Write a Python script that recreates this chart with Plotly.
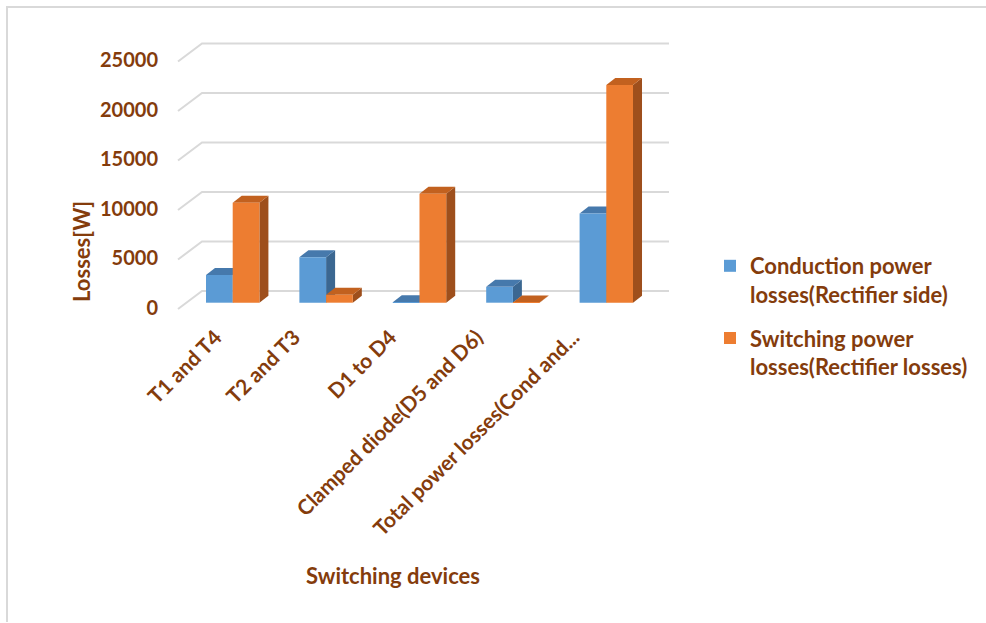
import plotly.graph_objects as go

# ---- data -------------------------------------------------------------
categories = ["T1 and T4", "T2 and T3", "D1 to D4",
              "Clamped diode(D5 and D6)", "Total power losses(Cond and..."]
conduction = [2800, 4600, 50, 1600, 9000]      # Conduction power losses (Rectifier side)
switching = [10100, 800, 11000, 30, 22000]     # Switching power losses (Rectifier losses)
y_ticks = [0, 5000, 10000, 15000, 20000, 25000]

series_names = ["Conduction power<br>losses(Rectifier side)",
                "Switching power<br>losses(Rectifier losses)"]

# ---- styling ----------------------------------------------------------
TXT = "#843C0C"
FONT = "Lato"
GRID = "#D9D9D9"
FRONT = ["#5B9BD5", "#ED7D31"]
TOP = ["#4679AC", "#C2611F"]
SIDE = ["#3B6791", "#9E4F1C"]

W, H = 986, 623
PL, PR, PT, PB = 170, 680, 30, 320          # plot-area box in pixels
PITCH = 93.4                                # pixels per category
BAND_L = 186                                # left edge of the bar plane
ZERO_PX = 302.7                             # bar-plane baseline (pixel row)
W_PER_PX = 101.0                            # watts per pixel vertically

# horizontal pixel nudges of the rotated category labels
LABEL_SHIFT_PX = [-17, -32, -29, -36, -33]


def px_to_x(px):
    return (px - BAND_L) / PITCH - 0.5


def px_to_y(py):
    return (ZERO_PX - py) * W_PER_PX


def dx_px(d):
    return d / PITCH


def dy_px(d):
    return d * W_PER_PX


x_range = [px_to_x(PL), px_to_x(PR)]
y_range = [px_to_y(PB), px_to_y(PT)]

# 3-D extrusion of each bar and of the floor/walls
BAR_DX, BAR_DY = dx_px(9), dy_px(7)
HALF_W = 0.143

FRONT_X, BACK_X, BACK_R = px_to_x(178), px_to_x(202), px_to_x(669)
FRONT_DY, BACK_DY = dy_px(6.3), dy_px(11.7)

shapes = []

# back-wall grid lines with their diagonal floor/side edges
for v in y_ticks:
    p = (f"M {FRONT_X},{v - FRONT_DY} L {BACK_X},{v + BACK_DY} "
         f"L {BACK_R},{v + BACK_DY}")
    shapes.append(dict(type="path", path=p, xref="x", yref="y",
                       line=dict(color=GRID, width=2), layer="below"))

# top and side faces of every bar (drawn behind the front faces)
for s, vals in enumerate([conduction, switching]):
    for i, v in enumerate(vals):
        c = i + (2 * s - 1) * HALF_W
        x0, x1 = c - HALF_W, c + HALF_W
        top = (f"M {x0},{v} L {x0 + BAR_DX},{v + BAR_DY} "
               f"L {x1 + BAR_DX},{v + BAR_DY} L {x1},{v} Z")
        side = (f"M {x1},0 L {x1 + BAR_DX},{BAR_DY} "
                f"L {x1 + BAR_DX},{v + BAR_DY} L {x1},{v} Z")
        for path, col in ((side, SIDE[s]), (top, TOP[s])):
            shapes.append(dict(type="path", path=path, xref="x", yref="y",
                               fillcolor=col, line=dict(width=0),
                               layer="below"))


def xp(px):
    return (px - PL) / (PR - PL)


def yp(py):
    return (PB - py) / (PB - PT)


# light frame on the left and top edges of the chart area
shapes.append(dict(type="path", xref="paper", yref="paper",
                   path=f"M {xp(7)},{yp(622)} L {xp(7)},{yp(7)} L {xp(986)},{yp(7)}",
                   line=dict(color=GRID, width=2)))

fig = go.Figure()
for s, vals in enumerate([conduction, switching]):
    fig.add_trace(go.Bar(
        x=list(range(len(categories))), y=vals, name=series_names[s],
        marker=dict(color=FRONT[s], line=dict(width=0)),
        legendgroup=str(s),
    ))

font = dict(family=FONT, size=22, color=TXT, weight="bold")
num_font = dict(family=FONT, size=20, color=TXT, weight="bold")
cat_font = dict(family=FONT, size=21, color=TXT, weight="bold")

fig.update_layout(
    width=W, height=H,
    margin=dict(l=PL, r=W - PR, t=PT, b=H - PB, autoexpand=False),
    paper_bgcolor="white", plot_bgcolor="white",
    barmode="group", bargap=1 - 4 * HALF_W, bargroupgap=0,
    font=font,
    shapes=shapes,
    showlegend=True,
    legend=dict(x=xp(710), y=yp(245), xanchor="left", yanchor="top",
                font=font, traceorder="grouped", tracegroupgap=12,
                valign="top", bgcolor="rgba(0,0,0,0)"),
    xaxis=dict(range=x_range, tickmode="array",
               tickvals=[i + dx_px(d) for i, d in enumerate(LABEL_SHIFT_PX)],
               ticktext=categories, tickangle=-45, tickfont=cat_font,
               showgrid=False, zeroline=False, showline=False, ticks=""),
    yaxis=dict(range=y_range, tickmode="array", tickvals=y_ticks,
               ticktext=[str(v) for v in y_ticks], tickfont=num_font,
               ticklabelshift=5, ticklabelstandoff=11,
               showgrid=False, zeroline=False, showline=False, ticks=""),
    annotations=[
        dict(text="Losses[W]", x=xp(81), y=yp(252), xref="paper", yref="paper",
             xanchor="center", yanchor="middle",
             textangle=-90, showarrow=False, font=font),
        dict(text="Switching devices", x=xp(393), y=yp(575), xref="paper",
             yref="paper", xanchor="center", yanchor="middle",
             showarrow=False, font=font),
    ],
)

fig.write_html("out.html")
